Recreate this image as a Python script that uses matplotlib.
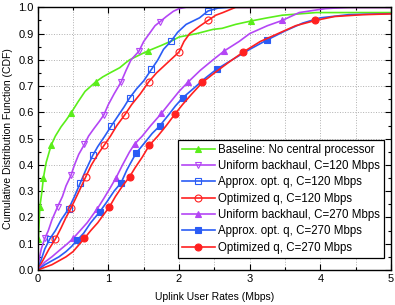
import matplotlib
matplotlib.use("Agg")
import matplotlib.pyplot as plt
from matplotlib.ticker import MultipleLocator

plt.rcParams['font.family'] = ['Liberation Sans', 'DejaVu Sans']

# Baseline: No central processor
base_x = [0, 0.0, 0.01, 0.03, 0.06, 0.08, 0.12, 0.19, 0.25, 0.33, 0.40, 0.47, 0.57, 0.67, 0.82,
          0.92, 1.02, 1.16, 1.25, 1.30, 1.45, 1.56, 1.75, 1.91, 2.0, 2.25, 2.48, 2.61, 2.80,
          3.02, 3.25, 3.46, 3.70, 3.94, 4.3, 5.0]
base_y = [0, 0.08, 0.118, 0.24, 0.30, 0.35, 0.41, 0.475, 0.51, 0.545, 0.57, 0.597, 0.64, 0.68,
          0.716, 0.735, 0.75, 0.77, 0.79, 0.80, 0.82, 0.834, 0.855, 0.874, 0.887, 0.90, 0.916,
          0.92, 0.935, 0.948, 0.96, 0.97, 0.975, 0.98, 0.98, 0.98]
base_mk = [2, 3, 5, 7, 11, 14, 21, 29]

# Uniform backhaul, C=120
uni120_x = [0, 0.02, 0.05, 0.10, 0.15, 0.2, 0.28, 0.35, 0.40, 0.47, 0.52, 0.58, 0.66, 0.72, 0.80,
            0.87, 0.935, 1.0, 1.08, 1.18, 1.25, 1.32, 1.43, 1.5, 1.58, 1.66, 1.73, 1.82, 1.92,
            2.0, 2.1, 5.0]
uni120_y = [0, 0.04, 0.08, 0.12, 0.15, 0.19, 0.24, 0.28, 0.32, 0.36, 0.40, 0.44, 0.478, 0.51,
            0.54, 0.565, 0.59, 0.63, 0.67, 0.716, 0.76, 0.80, 0.832, 0.87, 0.90, 0.93, 0.945,
            0.965, 0.985, 0.995, 1.0, 1.0]
uni120_mk = [3, 6, 9, 12, 16, 19, 22, 26]

# Approx. opt. q, C=120
app120_x = [0, 0.05, 0.1, 0.17, 0.25, 0.33, 0.44, 0.52, 0.60, 0.68, 0.78, 0.85, 0.95, 1.04, 1.12,
            1.22, 1.30, 1.40, 1.50, 1.61, 1.70, 1.78, 1.89, 1.98, 2.1, 2.29, 2.41, 2.55, 2.7, 5.0]
app120_y = [0, 0.04, 0.08, 0.118, 0.15, 0.19, 0.234, 0.28, 0.33, 0.38, 0.437, 0.47, 0.51, 0.548,
            0.58, 0.62, 0.655, 0.69, 0.72, 0.764, 0.80, 0.84, 0.872, 0.905, 0.935, 0.96, 0.986,
            0.997, 1.0, 1.0]
app120_mk = [3, 6, 8, 10, 13, 16, 19, 22, 26]

# Optimized q, C=120
opt120_x = [0, 0.08, 0.16, 0.25, 0.33, 0.40, 0.47, 0.55, 0.62, 0.68, 0.76, 0.85, 0.94, 1.03, 1.12,
            1.23, 1.33, 1.45, 1.57, 1.68, 1.80, 1.92, 2.0, 2.07, 2.15, 2.29, 2.41, 2.52, 2.62,
            2.8, 5.0]
opt120_y = [0, 0.04, 0.08, 0.118, 0.16, 0.2, 0.235, 0.28, 0.32, 0.355, 0.40, 0.44, 0.475, 0.51,
            0.55, 0.59, 0.63, 0.67, 0.716, 0.75, 0.78, 0.81, 0.83, 0.87, 0.90, 0.928, 0.95, 0.97,
            0.98, 1.0, 1.0]
opt120_mk = [3, 6, 9, 12, 15, 18, 22, 26]

# Uniform backhaul, C=270
uni270_x = [0, 0.1, 0.2, 0.33, 0.42, 0.5, 0.6, 0.7, 0.78, 0.845, 0.93, 1.02, 1.11, 1.2, 1.3, 1.37,
            1.48, 1.6, 1.75, 1.88, 2.0, 2.13, 2.3, 2.48, 2.64, 2.85, 3.0, 3.25, 3.46, 3.7, 4.07,
            4.4, 5.0]
uni270_y = [0, 0.03, 0.05, 0.08, 0.10, 0.12, 0.15, 0.18, 0.21, 0.234, 0.27, 0.31, 0.352, 0.40,
            0.45, 0.479, 0.51, 0.55, 0.596, 0.64, 0.68, 0.716, 0.76, 0.80, 0.834, 0.87, 0.90,
            0.93, 0.95, 0.98, 0.995, 1.0, 1.0]
uni270_mk = [5, 9, 12, 15, 18, 21, 24, 28]

# Approx. opt. q, C=270
app270_x = [0, 0.1, 0.2, 0.3, 0.4, 0.48, 0.56, 0.65, 0.75, 0.88, 0.98, 1.08, 1.18, 1.26, 1.32,
            1.39, 1.5, 1.62, 1.725, 1.85, 1.95, 2.05, 2.2, 2.37, 2.53, 2.75, 3.0, 3.24, 3.5,
            3.75, 4.0, 4.4, 5.0]
app270_y = [0, 0.02, 0.035, 0.05, 0.07, 0.09, 0.114, 0.14, 0.18, 0.222, 0.26, 0.30, 0.332, 0.38,
            0.41, 0.444, 0.48, 0.52, 0.548, 0.59, 0.625, 0.655, 0.69, 0.73, 0.764, 0.80, 0.84,
            0.875, 0.91, 0.94, 0.96, 0.972, 0.976]
app270_mk = [6, 9, 12, 15, 18, 21, 24, 27]

# Optimized q, C=270
opt270_x = [0, 0.1, 0.2, 0.3, 0.4, 0.5, 0.58, 0.66, 0.75, 0.85, 0.93, 1.01, 1.1, 1.2, 1.30, 1.38,
            1.48, 1.58, 1.7, 1.82, 1.94, 2.05, 2.18, 2.33, 2.5, 2.7, 2.91, 3.15, 3.4, 3.65, 3.93,
            4.2, 4.6, 5.0]
opt270_y = [0, 0.01, 0.02, 0.035, 0.05, 0.07, 0.095, 0.12, 0.15, 0.18, 0.21, 0.238, 0.28, 0.32,
            0.355, 0.39, 0.43, 0.475, 0.51, 0.55, 0.593, 0.63, 0.67, 0.714, 0.75, 0.79, 0.83,
            0.87, 0.90, 0.93, 0.95, 0.965, 0.972, 0.975]
opt270_mk = [7, 11, 14, 17, 20, 23, 26, 30]

labels = ['Baseline: No central processor',
          'Uniform backhaul, C=120 Mbps',
          'Approx. opt. q, C=120 Mbps',
          'Optimized q, C=120 Mbps',
          'Uniform backhaul, C=270 Mbps',
          'Approx. opt. q, C=270 Mbps',
          'Optimized q, C=270 Mbps']

green = '#5aee1a'
purple = '#b446f5'
blue = '#2a5cf5'
red = '#ff2020'

fig = plt.figure(figsize=(3.95, 3.05), dpi=100)
ax = fig.add_axes([0.0955, 0.1148, 0.8945, 0.8612])

series = [
    (base_x, base_y, base_mk, green, '^', True),
    (uni120_x, uni120_y, uni120_mk, purple, 'v', False),
    (app120_x, app120_y, app120_mk, blue, 's', False),
    (opt120_x, opt120_y, opt120_mk, red, 'o', False),
    (uni270_x, uni270_y, uni270_mk, purple, '^', True),
    (app270_x, app270_y, app270_mk, blue, 's', True),
    (opt270_x, opt270_y, opt270_mk, red, 'o', True),
]

for (xs, ys, mk, c, m, filled), lab in zip(series, labels):
    ax.plot(xs, ys, color=c, lw=1.2, marker=m, markevery=mk, ms=5,
            mfc=c if filled else 'none', mec=c, mew=0.8, label=lab)

ax.set_xlim(0, 5)
ax.set_ylim(0, 1.0)
ax.xaxis.set_major_locator(MultipleLocator(1))
ax.xaxis.set_minor_locator(MultipleLocator(0.5))
ax.yaxis.set_major_locator(MultipleLocator(0.1))
ax.yaxis.set_minor_locator(MultipleLocator(0.05))
ax.yaxis.set_major_formatter(plt.FormatStrFormatter('%.1f'))
ax.tick_params(which='both', direction='in', top=True, right=True, labelsize=8, pad=3)
ax.tick_params(which='major', length=4, width=0.8)
ax.tick_params(which='minor', length=2.5, width=0.8)
ax.grid(True, which='major', color='#b0b0b0', ls=':', lw=0.7)
ax.grid(True, which='minor', axis='x', color='#b0b0b0', ls=':', lw=0.7)
ax.set_axisbelow(True)
for sp in ax.spines.values():
    sp.set_linewidth(1.0)

ax.set_xlabel('Uplink User Rates (Mbps)', fontsize=7.5, labelpad=6)
ax.set_ylabel('Cumulative Distribution Function (CDF)', fontsize=7.5, labelpad=4)

leg = ax.legend(loc='lower right', bbox_to_anchor=(0.98, 0.046), borderaxespad=0,
                fontsize=8.3, fancybox=False, edgecolor='black', framealpha=1,
                handlelength=2.8, handletextpad=0.3, labelspacing=0.38, borderpad=0.35)
leg.get_frame().set_linewidth(0.9)

fig.savefig('out.png', dpi=100)
